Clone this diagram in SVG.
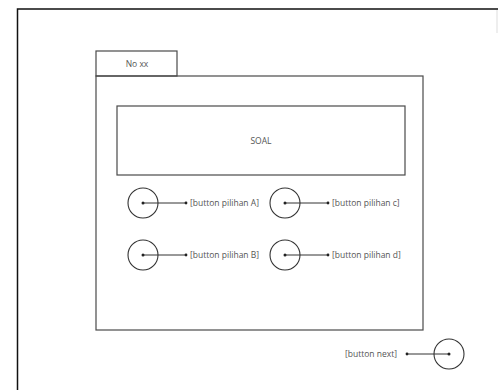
<svg xmlns="http://www.w3.org/2000/svg" width="499" height="390" viewBox="0 0 499 390">
<defs>
<style>
.box{fill:none;stroke:#4a4a4a;stroke-width:1.2}
.btn{fill:none;stroke:#333;stroke-width:1.1}
.ln{stroke:#333;stroke-width:1}
.dot{fill:#222}
.lbl{font-family:"Open Sans","Noto Sans",sans-serif;font-size:8.5px;fill:#555}
</style>
</defs>
<rect width="499" height="390" fill="#fff"/>
<g id="frame">
<path d="M17.5 391 V9 H498" fill="none" stroke="#111" stroke-width="1.5"/>
<line x1="497" y1="10" x2="497" y2="33" stroke="#ddd" stroke-width="1"/>
</g>
<g id="tab">
<rect class="box" x="96" y="51" width="81" height="25"/>
<text class="lbl" x="137" y="67" text-anchor="middle" fill="#6a5555">No xx</text>
</g>
<g id="screen">
<rect class="box" x="96" y="76" width="327" height="254"/>
</g>
<g id="soal">
<rect class="box" x="117" y="106" width="288" height="69"/>
<text class="lbl" x="261" y="144" text-anchor="middle">SOAL</text>
</g>
<g id="connectors">
<line class="ln" x1="143" y1="203" x2="186" y2="203"/>
<line class="ln" x1="143" y1="255" x2="186" y2="255"/>
<line class="ln" x1="285" y1="203" x2="328" y2="203"/>
<line class="ln" x1="285" y1="255" x2="328" y2="255"/>
<line class="ln" x1="407" y1="354" x2="449" y2="354"/>
<circle class="dot" cx="186" cy="203" r="1.4"/>
<circle class="dot" cx="186" cy="255" r="1.4"/>
<circle class="dot" cx="328" cy="203" r="1.4"/>
<circle class="dot" cx="328" cy="255" r="1.4"/>
<circle class="dot" cx="407" cy="354" r="1.4"/>
</g>
<g id="btnA">
<circle class="btn" cx="143" cy="203" r="15"/>
<circle class="dot" cx="143" cy="203" r="1.5"/>
<text class="lbl" x="190" y="206">[button pilihan A]</text>
</g>
<g id="btnB">
<circle class="btn" cx="143" cy="255" r="15"/>
<circle class="dot" cx="143" cy="255" r="1.5"/>
<text class="lbl" x="190" y="258">[button pilihan B]</text>
</g>
<g id="btnC">
<circle class="btn" cx="285" cy="203" r="15"/>
<circle class="dot" cx="285" cy="203" r="1.5"/>
<text class="lbl" x="332" y="206">[button pilihan c]</text>
</g>
<g id="btnD">
<circle class="btn" cx="285" cy="255" r="15"/>
<circle class="dot" cx="285" cy="255" r="1.5"/>
<text class="lbl" x="332" y="258">[button pilihan d]</text>
</g>
<g id="btnNext">
<circle class="btn" cx="449" cy="354" r="15"/>
<circle class="dot" cx="449" cy="354" r="1.5"/>
<text class="lbl" x="397" y="357" text-anchor="end">[button next]</text>
</g>
</svg>
